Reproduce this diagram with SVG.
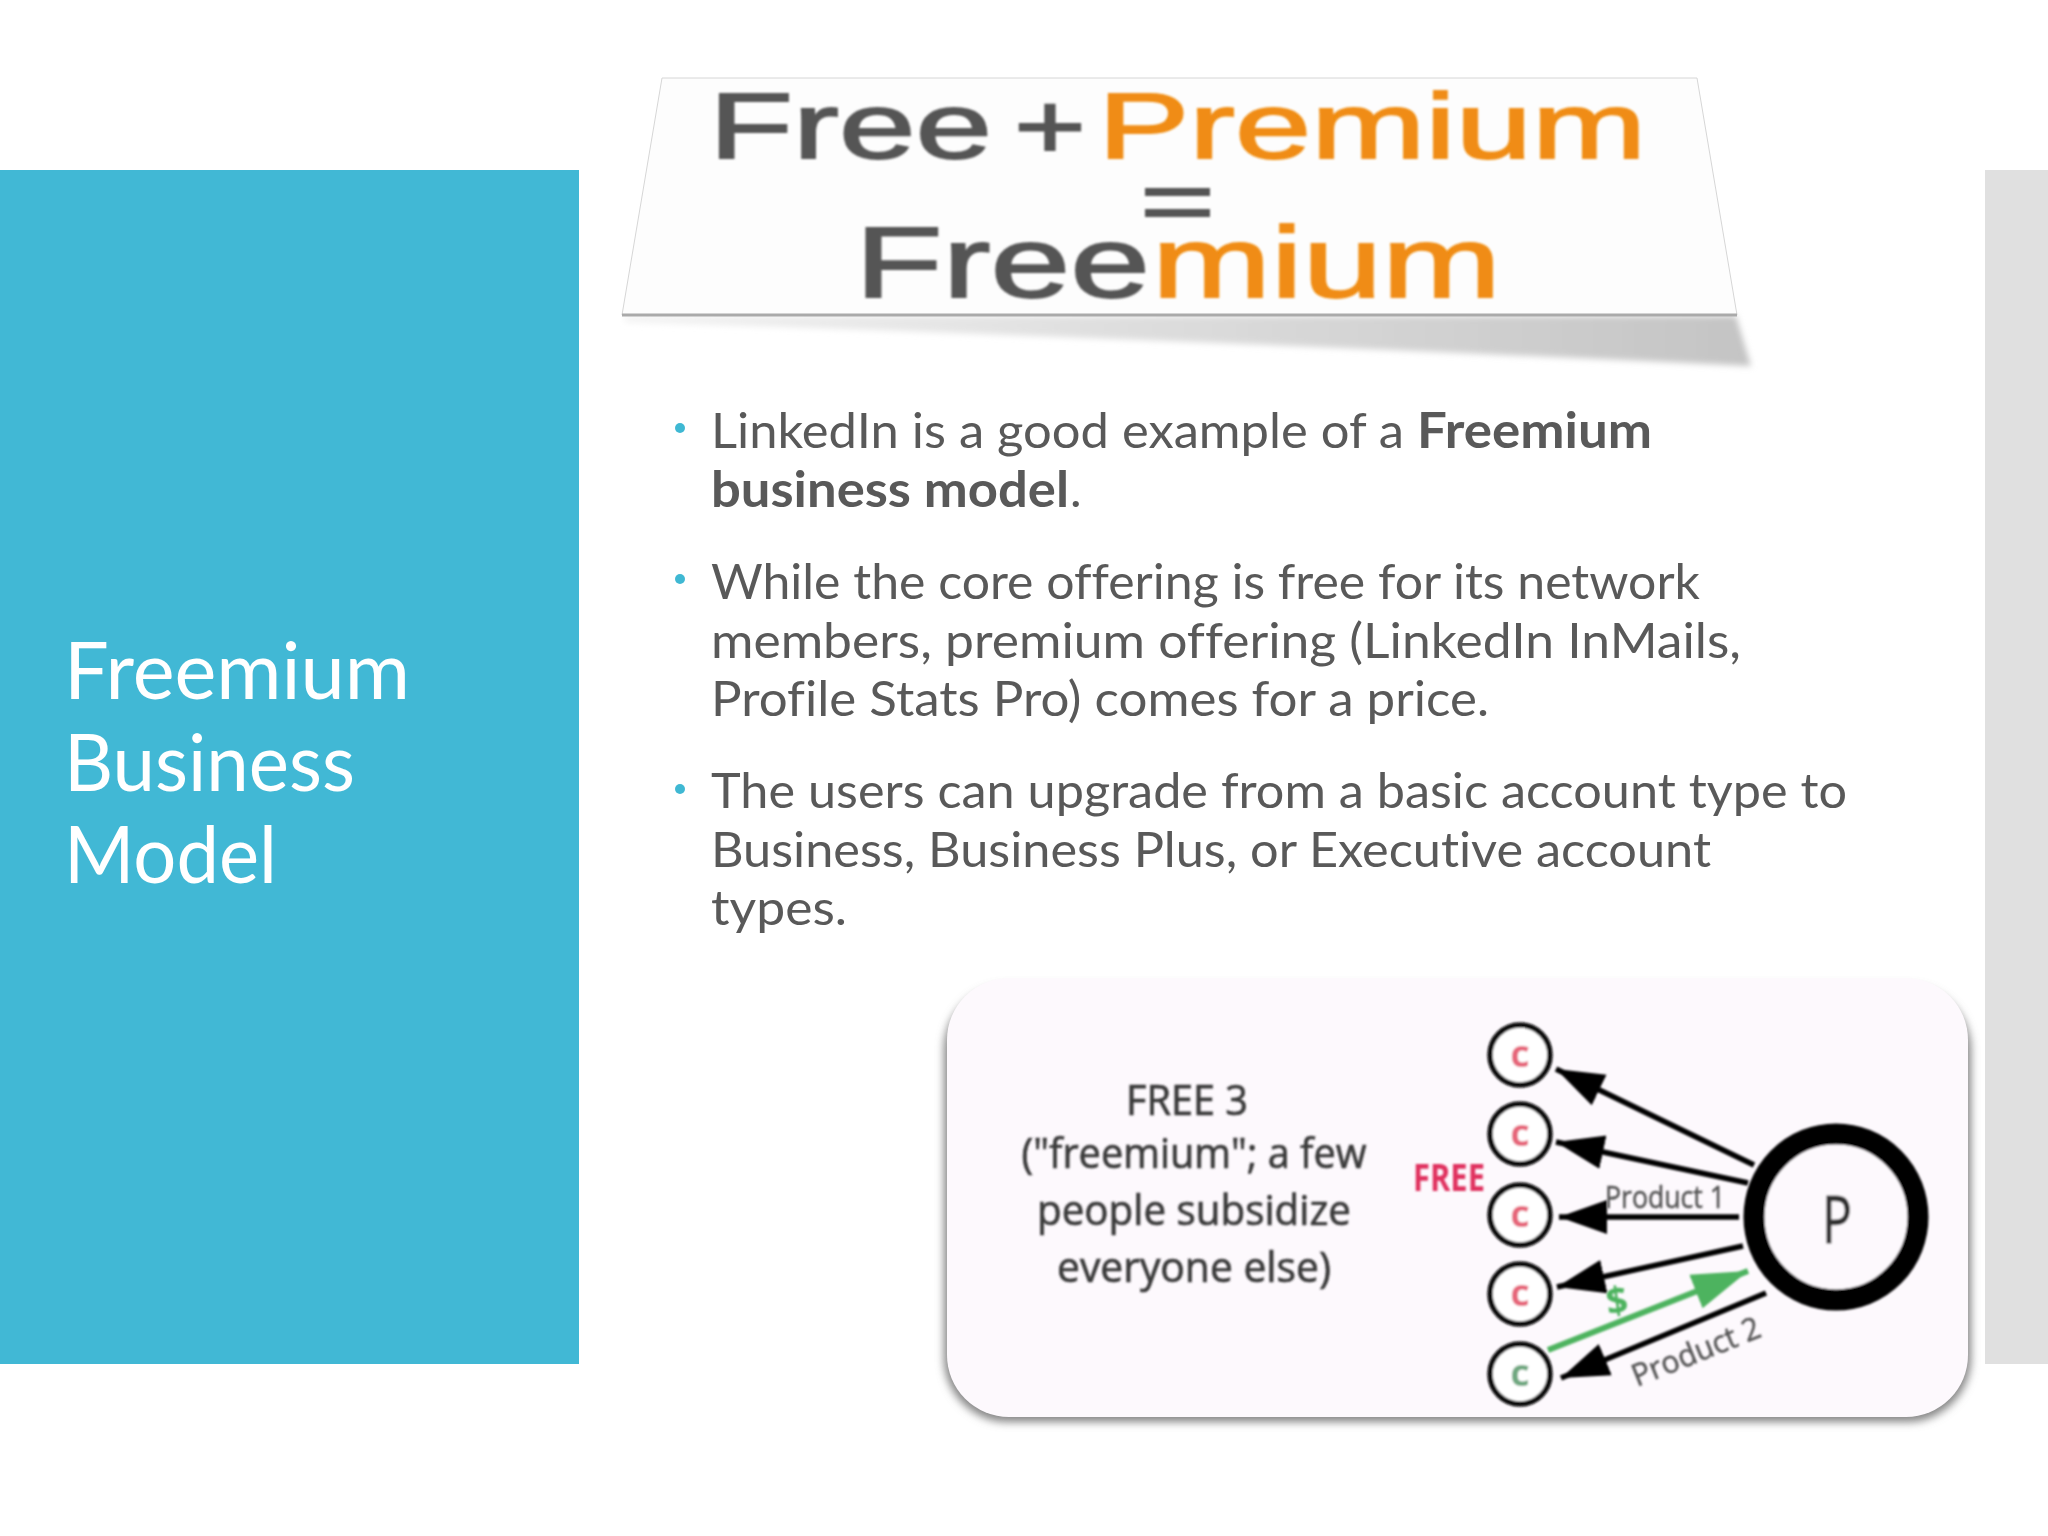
<svg xmlns="http://www.w3.org/2000/svg" width="2048" height="1536" viewBox="0 0 2048 1536">
<style>
.b{font-family:Lato,"Open Sans","Liberation Sans",sans-serif;font-size:49px;fill:#595959;font-variant-ligatures:none}
.bb{font-weight:700}
.t{font-family:Lato,"Open Sans","Liberation Sans",sans-serif;font-size:80px;fill:#fff}
.h{font-family:"Liberation Sans",Arial,sans-serif;fill:#555;stroke:#555;stroke-width:1.8}
.o{fill:#f08c12;stroke:#f08c12}
.k{font-family:"Open Sans","Liberation Sans",sans-serif;fill:#3a3a3a;stroke:#3a3a3a;stroke-width:.7;text-anchor:middle;font-size:42px}
.p{font-family:"Open Sans","Liberation Sans",sans-serif;fill:#555;stroke:#555;stroke-width:.5;font-size:31px}
.cn{fill:#fff;stroke:#0c0c0c;stroke-width:5.5}
.cl{font-family:"Open Sans","Liberation Sans",sans-serif;font-weight:700;font-size:38px;text-anchor:middle;fill:#e6667a}
.a{stroke:#050505;stroke-width:5.5;fill:none;marker-end:url(#ah)}
.dot{fill:#3fb8d3}
</style>
<defs>
<marker id="ah" markerUnits="userSpaceOnUse" markerWidth="52" markerHeight="36" refX="48" refY="18" orient="auto"><path d="M0,1L48,18L0,35Z" fill="#050505"/></marker>
<marker id="ag" markerUnits="userSpaceOnUse" markerWidth="60" markerHeight="38" refX="56" refY="19" orient="auto"><path d="M0,1L56,19L0,37Z" fill="#4db35e"/></marker>
<linearGradient id="sg" x1="0" x2="1" y1="0" y2="0"><stop offset="0" stop-color="#f2f2f2"/><stop offset=".4" stop-color="#e0e0e0"/><stop offset="1" stop-color="#c4c4c4"/></linearGradient>
<filter id="s1" x="-5%" y="-30%" width="110%" height="160%"><feGaussianBlur stdDeviation="3"/></filter>
<filter id="s2" x="-5%" y="-5%" width="110%" height="110%"><feGaussianBlur stdDeviation="4"/></filter>
<filter id="s3" x="-30%" y="-30%" width="160%" height="160%"><feGaussianBlur stdDeviation="0.8"/></filter>
</defs>
<rect width="2048" height="1536" fill="#fff"/>
<rect id="panel" x="0" y="170" width="579" height="1194" fill="#41b8d5"/>
<rect id="edge" x="1985" y="170" width="63" height="1194" fill="#e0e0e0"/>
<g id="title">
<text class="t" x="64" y="699" textLength="346" lengthAdjust="spacingAndGlyphs">Freemium</text>
<text class="t" x="64" y="791" textLength="291" lengthAdjust="spacingAndGlyphs">Business</text>
<text class="t" x="64" y="883" textLength="213" lengthAdjust="spacingAndGlyphs">Model</text>
</g>
<g id="banner">
<path d="M625,316L1736,316L1751,366Q1200,340 625,322Z" fill="url(#sg)" filter="url(#s1)"/>
<path d="M662,78L1697,78L1737,315L622,315Z" fill="#fdfdfd" stroke="#d6d6d6" stroke-width="1"/>
<path d="M622,315L1737,315" stroke="#aaa" stroke-width="3" fill="none"/>
<g filter="url(#s3)">
<text class="h" x="709" y="158" font-size="92" textLength="283" lengthAdjust="spacingAndGlyphs">Free</text>
<text class="h" x="1014" y="158" font-size="92" textLength="72" lengthAdjust="spacingAndGlyphs">+</text>
<text class="h o" x="1098" y="158" font-size="92" textLength="548" lengthAdjust="spacingAndGlyphs">Premium</text>
<rect x="1145" y="188" width="65" height="8" fill="#555"/><rect x="1145" y="209" width="65" height="8" fill="#555"/>
<text class="h" x="855" y="297" font-size="100" textLength="295" lengthAdjust="spacingAndGlyphs">Free</text>
<text class="h o" x="1152" y="297" font-size="100" textLength="349" lengthAdjust="spacingAndGlyphs">mium</text>
</g>
</g>
<g id="body">
<circle class="dot" cx="680" cy="428" r="5"/><circle class="dot" cx="680" cy="579" r="5"/><circle class="dot" cx="680" cy="789" r="5"/>
<text class="b" x="711" y="448" textLength="693" lengthAdjust="spacingAndGlyphs">LinkedIn is a good example of a</text>
<text class="b bb" x="1417" y="448" textLength="235" lengthAdjust="spacingAndGlyphs">Freemium</text>
<text class="b bb" x="711" y="507" textLength="358" lengthAdjust="spacingAndGlyphs">business model</text>
<text class="b" x="1070" y="507">.</text>
<text class="b" x="711" y="599" textLength="989" lengthAdjust="spacingAndGlyphs">While the core offering is free for its network</text>
<text class="b" x="711" y="658" textLength="1030" lengthAdjust="spacingAndGlyphs">members, premium offering (LinkedIn InMails,</text>
<text class="b" x="711" y="716" textLength="778" lengthAdjust="spacingAndGlyphs">Profile Stats Pro) comes for a price.</text>
<text class="b" x="711" y="808" textLength="1136" lengthAdjust="spacingAndGlyphs">The users can upgrade from a basic account type to</text>
<text class="b" x="711" y="867" textLength="1000" lengthAdjust="spacingAndGlyphs">Business, Business Plus, or Executive account</text>
<text class="b" x="711" y="925" textLength="136" lengthAdjust="spacingAndGlyphs">types.</text>
</g>
<g id="card">
<rect x="944" y="986" width="1027" height="436" rx="64" fill="#858585" filter="url(#s2)"/>
<rect x="947" y="978" width="1021" height="439" rx="62" fill="#fdf9fd"/>
<g filter="url(#s3)">
<text class="k" x="1187" y="1115" textLength="122" lengthAdjust="spacingAndGlyphs">FREE 3</text>
<text class="k" x="1194" y="1168" textLength="345" lengthAdjust="spacingAndGlyphs">("freemium"; a few</text>
<text class="k" x="1194" y="1225" textLength="314" lengthAdjust="spacingAndGlyphs">people subsidize</text>
<text class="k" x="1194" y="1282" textLength="274" lengthAdjust="spacingAndGlyphs">everyone else)</text>
</g>
</g>
<g id="connectors" filter="url(#s3)">
<path class="a" d="M1754,1165L1556,1069"/>
<path class="a" d="M1748,1183L1556,1142"/>
<path class="a" d="M1739,1217L1559,1217"/>
<path class="a" d="M1743,1246L1557,1287"/>
<path d="M1548,1350L1748,1271" stroke="#4db35e" stroke-width="6" fill="none" marker-end="url(#ag)"/>
<path class="a" d="M1766,1293L1561,1378"/>
</g>
<g id="labels" filter="url(#s3)">
<text id="free" x="1413" y="1191" font-family="Open Sans,Liberation Sans,sans-serif" font-weight="700" font-size="37" fill="#e0305f" textLength="72" lengthAdjust="spacingAndGlyphs">FREE</text>
<text id="p1" class="p" x="1605" y="1208" textLength="120" lengthAdjust="spacingAndGlyphs">Product 1</text>
<text id="p2" class="p" transform="translate(1637,1387) rotate(-22)" textLength="136" lengthAdjust="spacingAndGlyphs">Product 2</text>
<text id="dollar" x="1606" y="1314" font-family="Open Sans,Liberation Sans,sans-serif" font-weight="700" font-size="38" fill="#4db35e" transform="rotate(-8 1617 1300)">$</text>
</g>
<g id="c1" filter="url(#s3)"><circle class="cn" cx="1520" cy="1055" r="30"/><text class="cl" x="1520" y="1067">c</text></g>
<g id="c2" filter="url(#s3)"><circle class="cn" cx="1520" cy="1134" r="30"/><text class="cl" x="1520" y="1146">c</text></g>
<g id="c3" filter="url(#s3)"><circle class="cn" cx="1520" cy="1215" r="30"/><text class="cl" x="1520" y="1227">c</text></g>
<g id="c4" filter="url(#s3)"><circle class="cn" cx="1520" cy="1294" r="30"/><text class="cl" x="1520" y="1306">c</text></g>
<g id="c5" filter="url(#s3)"><circle class="cn" cx="1520" cy="1374" r="30"/><text class="cl" x="1520" y="1386" style="fill:#6fa880">c</text></g>
<g id="pnode" filter="url(#s3)"><ellipse cx="1836" cy="1217" rx="82" ry="83" fill="#fdf9fd" stroke="#000" stroke-width="21"/><text x="1822" y="1243" font-family="Open Sans,Liberation Sans,sans-serif" font-size="66" fill="#333" stroke="#333" stroke-width="1" textLength="30" lengthAdjust="spacingAndGlyphs">P</text></g>
</svg>
